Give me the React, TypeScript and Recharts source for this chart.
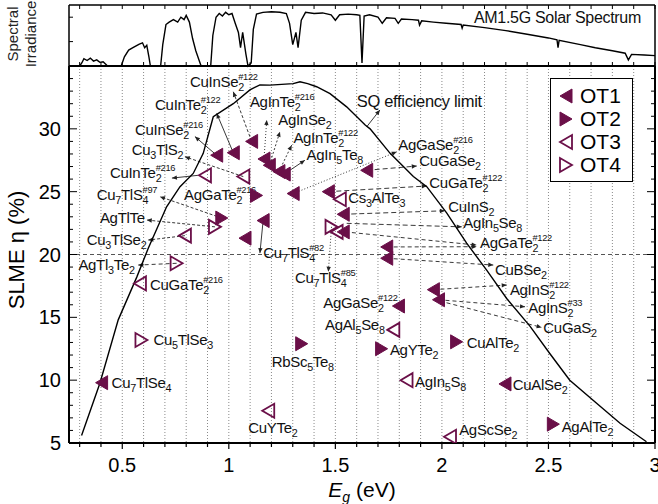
import React from "react";
import {
  CartesianGrid,
  ComposedChart,
  Legend,
  Line,
  LineChart,
  ReferenceLine,
  Scatter,
  XAxis,
  YAxis,
} from "recharts";

const FONT = '"Liberation Sans", Arial, Helvetica, sans-serif';
const PURPLE = "#6a0f48";

// AM1.5G spectrum (photon energy in eV, irradiance normalised to panel height)
const SPEC_E = [
  0.3, 0.31, 0.32, 0.335, 0.35, 0.365, 0.38, 0.395, 0.41, 0.425, 0.43, 0.495, 0.51, 0.53, 0.55, 0.565, 0.58,
  0.595, 0.605, 0.615, 0.625, 0.632, 0.68, 0.69, 0.705, 0.72, 0.74, 0.76, 0.775, 0.79, 0.8, 0.815, 0.83, 0.845,
  0.86, 0.87, 0.915, 0.925, 0.94, 0.955, 0.97, 0.985, 1.0, 1.015, 1.03, 1.045, 1.055, 1.065, 1.08, 1.09, 1.105,
  1.115, 1.13, 1.16, 1.2, 1.24, 1.27, 1.285, 1.3, 1.315, 1.325, 1.34, 1.36, 1.4, 1.44, 1.48, 1.5, 1.52, 1.56,
  1.6, 1.615, 1.625, 1.635, 1.66, 1.7, 1.72, 1.74, 1.78, 1.795, 1.81, 1.86, 1.89, 1.895, 1.905, 1.96, 2.02,
  2.09, 2.095, 2.1, 2.2, 2.3, 2.4, 2.5, 2.54, 2.545, 2.55, 2.65, 2.72, 2.8, 2.86, 2.875, 2.89, 2.95, 3.0,
];
const SPEC_I = [
  0, 0.05, 0.12, 0.09, 0.13, 0.08, 0.1, 0.06, 0.07, 0.02, 0, 0, 0.15, 0.26, 0.3, 0.33, 0.36,
  0.38, 0.3, 0.34, 0.15, 0, 0, 0.35, 0.68, 0.72, 0.76, 0.72, 0.8, 0.76, 0.83, 0.72, 0.45, 0.25,
  0.1, 0, 0, 0.5, 0.8, 0.86, 0.82, 0.88, 0.84, 0.86, 0.7, 0.55, 0.3, 0.55, 0.2, 0, 0.05,
  0.6, 0.85, 0.88, 0.89, 0.88, 0.86, 0.7, 0.35, 0.55, 0.3, 0.75, 0.88, 0.86, 0.87, 0.84, 0.75, 0.84, 0.85,
  0.84, 0.83, 0.05, 0.82, 0.84, 0.8, 0.7, 0.79, 0.78, 0.7, 0.77, 0.76, 0.75, 0.67, 0.74, 0.72, 0.7,
  0.68, 0.62, 0.67, 0.63, 0.58, 0.52, 0.46, 0.43, 0.3, 0.42, 0.35, 0.3, 0.25, 0.21, 0.1, 0.19, 0.18, 0.17,
];

// Shockley-Queisser limit
const SQ_E = [
  0.309, 0.395, 0.481, 0.568, 0.622, 0.708, 0.771, 0.833, 0.88, 0.927, 1.021, 1.099, 1.146, 1.193, 1.302,
  1.334, 1.37, 1.412, 1.475, 1.553, 1.64, 1.663, 1.757, 1.866, 1.929, 2.023, 2.116, 2.21, 2.304, 2.413,
  2.507, 2.6, 2.726, 2.836, 2.96,
];
const SQ_ETA = [
  5.6, 9.75, 14.8, 18.2, 20.5, 23.8, 25.4, 26.45, 28.05, 30.96, 32.0, 33.1, 33.5, 33.48, 33.6,
  33.75, 33.6, 33.35, 32.8, 31.75, 30.3, 30.0, 28.05, 26.2, 25.4, 23.3, 20.9, 18.76, 16.5, 14.3,
  12.1, 10.0, 8.16, 6.57, 5.1,
];

// [Eg (eV), SLME (%)]
const OT1 = [
  [0.943, 27.9], [1.021, 28.1], [1.107, 29.0], [1.165, 27.6], [1.19, 27.1], [1.235, 26.6], [1.26, 26.4],
  [1.302, 24.85], [1.161, 22.7], [1.076, 21.3], [1.647, 26.7], [1.467, 25.0], [1.537, 23.2], [1.537, 21.8],
  [1.741, 20.6], [1.741, 19.7], [1.96, 17.2], [1.984, 16.4], [1.796, 15.9], [2.296, 9.7], [0.403, 9.8],
];
const OT2 = [[1.13, 24.7], [0.967, 22.9], [1.342, 12.9], [1.717, 12.5], [2.069, 13.05], [2.523, 6.5]];
const OT3 = [
  [0.888, 26.3], [1.068, 26.2], [0.794, 21.5], [0.583, 17.7], [1.185, 7.57], [1.521, 24.4], [1.506, 21.8],
  [1.772, 14.0], [1.834, 10.0], [2.038, 5.5],
];
const OT4 = [[0.755, 19.3], [0.59, 13.2], [1.482, 22.2], [0.935, 22.2]];

// compound labels: text, superscript, Eg / eta of text start (baseline)
const LABELS: [string, string, number, number][] = [
  ["CuInSe2", "#122", 0.818, 33.35],
  ["CuInTe2", "#122", 0.654, 31.49],
  ["CuInSe2", "#216", 0.56, 29.5],
  ["Cu3TlS2", "", 0.544, 27.9],
  ["CuInTe2", "#216", 0.442, 26.06],
  ["Cu7TlS4", "#97", 0.38, 24.33],
  ["AgTlTe", "", 0.395, 22.48],
  ["Cu3TlSe2", "", 0.333, 20.75],
  ["AgGaTe2", "#216", 0.79, 24.33],
  ["AgInTe2", "#216", 1.099, 31.75],
  ["AgInSe2", "", 1.232, 30.3],
  ["AgInTe2", "#122", 1.303, 28.84],
  ["AgIn5Te8", "", 1.365, 27.5],
  ["SQ efficiency limit", "", 1.6, 31.75],
  ["AgGaSe2", "#216", 1.795, 28.31],
  ["CuGaSe2", "", 1.894, 27.04],
  ["CuGaTe2", "#122", 1.941, 25.26],
  ["Cs3AlTe3", "", 1.56, 24.07],
  ["CuInS2", "", 2.03, 23.4],
  ["AgIn5Se8", "", 2.1, 22.08],
  ["AgGaTe2", "#122", 2.179, 20.49],
  ["CuBSe2", "", 2.249, 18.37],
  ["AgInS2", "#122", 2.319, 16.77],
  ["AgInS2", "#33", 2.405, 15.32],
  ["CuGaS2", "", 2.476, 13.73],
  ["Cu7TlS4", "#82", 1.162, 19.69],
  ["Cu7TlS4", "#85", 1.31, 17.7],
  ["AgGaSe2", "#122", 1.443, 15.72],
  ["AgAl5Se8", "", 1.451, 13.99],
  ["AgYTe2", "", 1.756, 12.0],
  ["CuAlTe2", "", 2.116, 12.53],
  ["AgIn5S8", "", 1.874, 9.48],
  ["CuAlSe2", "", 2.332, 9.22],
  ["AgScSe2", "", 2.081, 5.64],
  ["AgAlTe2", "", 2.562, 5.9],
  ["CuYTe2", "", 1.091, 5.77],
  ["RbSc5Te8", "", 1.201, 11.07],
  ["Cu7TlSe4", "", 0.45, 9.35],
  ["Cu5TlSe3", "", 0.646, 12.8],
  ["CuGaTe2", "#216", 0.63, 17.17],
  ["AgTl3Te2", "", 0.294, 18.76],
];

// pointer lines: marker (Eg, eta) -> label end (Eg, eta), dash pattern
const ARROWS: [number, number, number, number, string][] = [
  [1.107, 29.0, 1.021, 32.95, "3 2"],
  [1.021, 28.1, 0.943, 31.23, ""],
  [0.943, 27.9, 0.841, 29.38, ""],
  [1.068, 26.2, 0.794, 27.78, "3 2"],
  [0.855, 26.3, 0.733, 26.08, ""],
  [0.967, 22.9, 0.677, 24.6, "3 2"],
  [0.935, 22.2, 0.615, 22.74, "3 2"],
  [0.794, 21.5, 0.622, 21.15, "3 2"],
  [1.165, 27.6, 1.178, 30.7, "1 2"],
  [1.19, 27.1, 1.24, 29.77, "2 2"],
  [1.235, 26.6, 1.295, 28.7, "2 2"],
  [1.26, 26.4, 1.357, 27.5, ""],
  [1.647, 30.16, 1.709, 31.5, ""],
  [1.302, 24.85, 1.788, 28.17, "1 2"],
  [1.647, 26.7, 1.882, 27.04, "5 3"],
  [1.467, 25.0, 1.929, 25.45, "5 3"],
  [1.537, 23.2, 2.014, 23.48, "5 3"],
  [1.553, 22.48, 2.093, 22.2, "5 3"],
  [1.741, 20.6, 2.163, 20.62, "4 3"],
  [1.545, 21.8, 2.163, 20.75, "4 3"],
  [1.741, 19.7, 2.241, 19.16, "4 3"],
  [1.96, 17.2, 2.304, 17.57, "4 3"],
  [1.984, 16.4, 2.39, 15.84, "4 3"],
  [1.99, 16.3, 2.468, 14.2, "4 3"],
  [1.161, 22.7, 1.146, 20.11, ""],
  [1.482, 22.2, 1.467, 18.63, "1 2"],
  [0.755, 19.3, 0.575, 19.16, "4 3"],
];

const X_TICKS = [
  0.3, 0.4, 0.5, 0.6, 0.7, 0.8, 0.9, 1.0, 1.1, 1.2, 1.3, 1.4, 1.5, 1.6, 1.7, 1.8, 1.9, 2.0, 2.1, 2.2, 2.3,
  2.4, 2.5, 2.6, 2.7, 2.8, 2.9, 3.0,
];
const Y_TICKS = [
  5, 6, 7, 8, 9, 10, 11, 12, 13, 14, 15, 16, 17, 18, 19, 20, 21, 22, 23, 24, 25, 26, 27, 28, 29, 30, 31, 32,
  33, 34, 35,
];
const Y_LABELS = [5, 10, 15, 20, 25, 30];
const SPEC_TICKS = [0.2, 0.4, 0.6, 0.8];
const LEGEND_NAMES = ["OT1", "OT2", "OT3", "OT4"];

const specData = SPEC_E.map((e, i) => ({ e, v: SPEC_I[i] }));
const sqData = SQ_E.map((e, i) => ({ e, eta: SQ_ETA[i] }));
const toPts = (a: number[][]) => a.map(([e, eta]) => ({ e, eta }));
const labelData = LABELS.map(([t, s, e, eta]) => ({ t, s, e, eta }));

function triPoints(cx: number, cy: number, dir: string) {
  const w = 6, h = 7;
  return dir === "l"
    ? `${cx - w},${cy} ${cx + w},${cy - h} ${cx + w},${cy + h}`
    : `${cx + w},${cy} ${cx - w},${cy - h} ${cx - w},${cy + h}`;
}

const triShape = (dir: string, filled: boolean) => (p: any) => (
  <polygon
    points={triPoints(p.cx, p.cy, dir)}
    fill={filled ? PURPLE : "none"}
    stroke={PURPLE}
    strokeWidth={filled ? 1 : 1.8}
    strokeLinejoin="miter"
  />
);

const SHAPES = [triShape("l", true), triShape("r", true), triShape("l", false), triShape("r", false)];

function Formula({ x, y, text, sup, size = 15 }: any) {
  const parts: string[] = text.match(/\d+|\D+/g) || [];
  const kids: any[] = [];
  let low = false;
  let lastSub = 0;
  parts.forEach((p, i) => {
    if (/\d/.test(p)) {
      kids.push(
        <tspan key={i} dy={4} fontSize={size * 0.72}>
          {p}
        </tspan>
      );
      low = true;
      lastSub = p.length * size * 0.72 * 0.53;
    } else {
      kids.push(
        <tspan key={i} dy={low ? -4 : 0}>
          {p}
        </tspan>
      );
      low = false;
    }
  });
  if (sup)
    kids.push(
      <tspan key="s" dx={low ? -lastSub : 0} dy={low ? -11 : -7} fontSize={size * 0.62}>
        {sup}
      </tspan>
    );
  return (
    <text x={x} y={y} fontSize={size} fontFamily={FONT} fill="#111" style={{ letterSpacing: -0.3 }}>
      {kids}
    </text>
  );
}

const LabelShape = (p: any) => (
  <Formula
    x={p.cx}
    y={p.cy}
    text={p.payload.t}
    sup={p.payload.s}
    size={p.payload.t.includes(" ") ? 16.5 : 15}
  />
);

const arrowShape = (dash: string) => (p: any) => {
  const { x1, y1, x2, y2 } = p;
  const a = Math.atan2(y2 - y1, x2 - x1);
  const L = 5, W = 2.2;
  const bx = x2 - L * Math.cos(a), by = y2 - L * Math.sin(a);
  const head = `${x2},${y2} ${bx - W * Math.sin(a)},${by + W * Math.cos(a)} ${bx + W * Math.sin(a)},${by - W * Math.cos(a)}`;
  return (
    <g>
      <line x1={x1} y1={y1} x2={x2} y2={y2} stroke="#222" strokeWidth={0.9} strokeDasharray={dash || undefined} />
      <polygon points={head} fill="#222" />
    </g>
  );
};

const isMajorX = (v: number) => Math.abs(v * 2 - Math.round(v * 2)) < 1e-6;

const XTickMain = (p: any) => {
  const v = p.payload.value;
  const major = isMajorX(v);
  return (
    <g>
      <line x1={p.x} y1={p.y} x2={p.x} y2={p.y + (major ? 6 : 4)} stroke="#000" strokeWidth={1.2} />
      {major && (
        <text x={p.x} y={p.y + 29} textAnchor="middle" fontSize={20} fontFamily={FONT} fill="#000">
          {String(Number(v.toFixed(1)))}
        </text>
      )}
    </g>
  );
};

const YTickLeft = (p: any) => {
  const v = p.payload.value;
  const major = v % 5 === 0;
  return (
    <g>
      <line x1={p.x} y1={p.y} x2={p.x + (major ? 8 : 4)} y2={p.y} stroke="#000" strokeWidth={1} />
      {Y_LABELS.includes(v) && (
        <text x={p.x - 8} y={p.y + 7} textAnchor="end" fontSize={20} fontFamily={FONT} fill="#000">
          {v}
        </text>
      )}
    </g>
  );
};

const YTickRight = (p: any) => {
  const major = p.payload.value % 5 === 0;
  return <line x1={p.x} y1={p.y} x2={p.x - (major ? 8 : 4)} y2={p.y} stroke="#000" strokeWidth={1} />;
};

const TopTickDown = (p: any) => <line x1={p.x} y1={p.y} x2={p.x} y2={p.y + 4} stroke="#000" strokeWidth={1} />;
const TopTickUp = (p: any) => <line x1={p.x} y1={p.y} x2={p.x} y2={p.y - 4} stroke="#000" strokeWidth={1} />;
const SpecTickLeft = (p: any) => <line x1={p.x} y1={p.y} x2={p.x + 4} y2={p.y} stroke="#000" strokeWidth={1} />;
const SpecTickRight = (p: any) => <line x1={p.x} y1={p.y} x2={p.x - 4} y2={p.y} stroke="#000" strokeWidth={1} />;

const SpecAxisTitle = () => (
  <g fontFamily={FONT} fontSize={15} fill="#222">
    <text x={0} y={0} transform="translate(18,34) rotate(-90)" textAnchor="middle">
      Spectral
    </text>
    <text x={0} y={0} transform="translate(36,34) rotate(-90)" textAnchor="middle">
      Irradiance
    </text>
  </g>
);

const SpecTitle = () => (
  <text x={641} y={23} textAnchor="end" fontSize={16} fontFamily={FONT} fill="#111" style={{ letterSpacing: -0.3 }}>
    AM1.5G Solar Spectrum
  </text>
);

const XTitle = () => (
  <text x={362} y={497} textAnchor="middle" fontSize={21} fontFamily={FONT} fill="#000">
    <tspan fontStyle="italic">E</tspan>
    <tspan fontStyle="italic" fontSize={14} dy={5}>
      g
    </tspan>
    <tspan dy={-5}> (eV)</tspan>
  </text>
);

const YTitle = () => (
  <text x={0} y={0} transform="translate(24,250) rotate(-90)" textAnchor="middle" fontSize={22} fontFamily={FONT} fill="#000">
    SLME η (%)
  </text>
);

const LegendBox = () => (
  <div
    style={{
      border: "1.5px solid #000",
      background: "#fff",
      padding: "5px 6px 5px 7px",
      fontFamily: FONT,
      fontSize: 21,
      lineHeight: "23px",
      color: "#000",
      width: 68,
    }}
  >
    {LEGEND_NAMES.map((n, i) => (
      <div key={n} style={{ display: "flex", alignItems: "center", height: 23 }}>
        <svg width={16} height={18}>
          {SHAPES[i]({ cx: 8, cy: 9 })}
        </svg>
        <span style={{ marginLeft: 6 }}>{n}</span>
      </div>
    ))}
  </div>
);

export default function App() {
  return (
    <div style={{ position: "absolute", left: 0, top: 0, width: 658, height: 504, background: "#fff" }}>
      <div style={{ position: "absolute", left: 0, top: 0 }}>
        <ComposedChart width={658} height={504} margin={{ top: 66, right: 0, bottom: 0, left: 0 }}>
          <CartesianGrid horizontal={false} stroke="#8a8a8a" strokeDasharray="1 2" />
          <XAxis
            type="number"
            dataKey="e"
            domain={[0.25, 3]}
            ticks={X_TICKS}
            interval={0}
            height={61}
            tickSize={0}
            tickMargin={0}
            tick={XTickMain}
            axisLine={{ stroke: "#000", strokeWidth: 2 }}
            allowDataOverflow
            label={{ content: XTitle }}
          />
          <YAxis
            type="number"
            dataKey="eta"
            domain={[5, 35]}
            ticks={Y_TICKS}
            interval={0}
            width={69}
            tickSize={0}
            tickMargin={0}
            tick={YTickLeft}
            axisLine={{ stroke: "#000", strokeWidth: 2 }}
            allowDataOverflow
            label={{ content: YTitle }}
          />
          <YAxis
            yAxisId="right"
            orientation="right"
            type="number"
            domain={[5, 35]}
            ticks={Y_TICKS}
            interval={0}
            width={3}
            tickSize={0}
            tickMargin={0}
            tick={YTickRight}
            axisLine={{ stroke: "#000", strokeWidth: 2 }}
            allowDataOverflow
          />
          <ReferenceLine y={20} stroke="#555" strokeDasharray="4 3" strokeWidth={1} />
          {ARROWS.map(([a, b, c, d, dash], i) => (
            <ReferenceLine
              key={i}
              segment={[
                { x: a, y: b },
                { x: c, y: d },
              ]}
              shape={arrowShape(dash)}
              ifOverflow="visible"
            />
          ))}
          <Line
            data={sqData}
            dataKey="eta"
            type="linear"
            stroke="#000"
            strokeWidth={1.4}
            dot={false}
            isAnimationActive={false}
          />
          <Scatter data={labelData} dataKey="eta" shape={LabelShape} isAnimationActive={false} />
          {[OT1, OT2, OT3, OT4].map((s, i) => (
            <Scatter
              key={LEGEND_NAMES[i]}
              name={LEGEND_NAMES[i]}
              data={toPts(s)}
              dataKey="eta"
              shape={SHAPES[i]}
              isAnimationActive={false}
            />
          ))}
          <Legend
            layout="vertical"
            align="center"
            verticalAlign="middle"
            content={LegendBox}
            wrapperStyle={{ left: 550, top: 78, width: 86, height: 106 }}
          />
        </ComposedChart>
      </div>
      <div style={{ position: "absolute", left: 0, top: 0 }}>
        <LineChart width={658} height={70} data={specData} margin={{ top: 0, right: 0, bottom: 0, left: 0 }}>
          <XAxis
            type="number"
            dataKey="e"
            domain={[0.25, 3]}
            ticks={X_TICKS}
            interval={0}
            height={4}
            tickSize={0}
            tickMargin={0}
            tick={TopTickUp}
            axisLine={{ stroke: "#000", strokeWidth: 2 }}
            allowDataOverflow
          />
          <XAxis
            xAxisId="top"
            orientation="top"
            type="number"
            dataKey="e"
            domain={[0.25, 3]}
            ticks={X_TICKS}
            interval={0}
            height={5}
            tickSize={0}
            tickMargin={0}
            tick={TopTickDown}
            axisLine={{ stroke: "#000", strokeWidth: 1.5 }}
            allowDataOverflow
            label={{ content: SpecTitle }}
          />
          <YAxis
            type="number"
            domain={[0, 1]}
            ticks={SPEC_TICKS}
            width={69}
            tickSize={0}
            tickMargin={0}
            tick={SpecTickLeft}
            axisLine={{ stroke: "#000", strokeWidth: 1.5 }}
            label={{ content: SpecAxisTitle }}
          />
          <YAxis
            yAxisId="right"
            orientation="right"
            type="number"
            domain={[0, 1]}
            ticks={SPEC_TICKS}
            width={3}
            tickSize={0}
            tickMargin={0}
            tick={SpecTickRight}
            axisLine={{ stroke: "#000", strokeWidth: 1.5 }}
          />
          <Line dataKey="v" type="linear" stroke="#000" strokeWidth={1.4} dot={false} isAnimationActive={false} />
        </LineChart>
      </div>
    </div>
  );
}
